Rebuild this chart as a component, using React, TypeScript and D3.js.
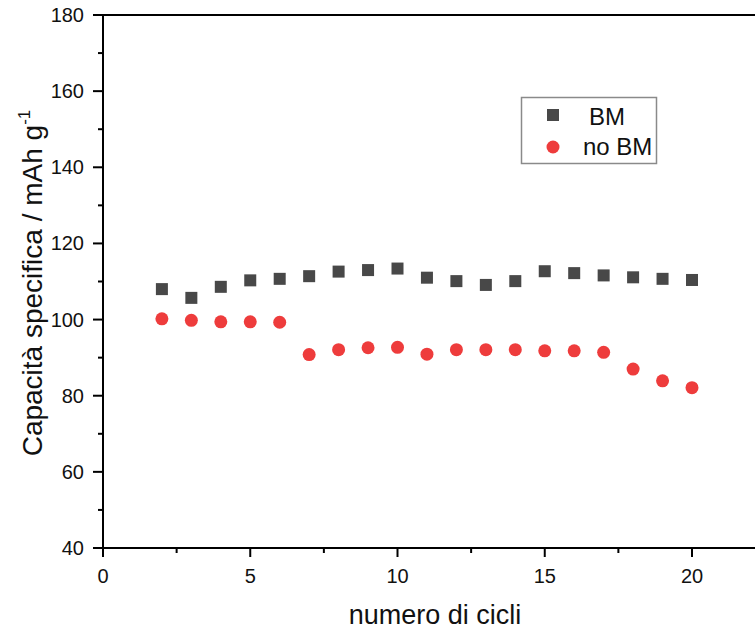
import React from "react";
import * as d3 from "d3";

const cycles = [2, 3, 4, 5, 6, 7, 8, 9, 10, 11, 12, 13, 14, 15, 16, 17, 18, 19, 20];
const bmValues = [108.0, 105.7, 108.6, 110.3, 110.7, 111.4, 112.6, 113.0, 113.4, 111.0, 110.1, 109.1, 110.1, 112.7, 112.2, 111.6, 111.1, 110.7, 110.4];
const noBmValues = [100.2, 99.8, 99.4, 99.4, 99.3, 90.8, 92.1, 92.6, 92.7, 90.9, 92.1, 92.1, 92.1, 91.8, 91.8, 91.4, 87.0, 83.9, 82.1];
const xTicks = [0, 5, 10, 15, 20];
const xMinorTicks = [2.5, 7.5, 12.5, 17.5, 22.5];
const yTicks = [40, 60, 80, 100, 120, 140, 160, 180];
const yMinorTicks = [50, 70, 90, 110, 130, 150, 170];
const seriesNames = ["BM", "no BM"];

const W = 755;
const H = 632;
const left = 103;
const top = 15;
const bottom = 548;

export default function App() {
  const x = d3.scaleLinear().domain([0, 20]).range([left, 692]);
  const y = d3.scaleLinear().domain([40, 180]).range([bottom, top]);
  const font = "Arial, 'Liberation Sans', sans-serif";
  const sq = 12;
  const r = 6.5;
  const bmColor = "#484848";
  const noColor = "#ee3c3c";
  return (
    <svg width={W} height={H} style={{ position: "absolute", left: 0, top: 0, background: "#fff" }} fontFamily={font}>
      <line x1={left} x2={W} y1={top} y2={top} stroke="#000" strokeWidth={2} />
      <line x1={left} x2={W} y1={bottom} y2={bottom} stroke="#000" strokeWidth={2} />
      <line x1={left} x2={left} y1={top - 1} y2={bottom + 1} stroke="#000" strokeWidth={2} />
      {xTicks.map((t) => (
        <g key={"xt" + t}>
          <line x1={x(t)} x2={x(t)} y1={bottom} y2={bottom + 9} stroke="#000" strokeWidth={2} />
          <text x={x(t)} y={583} textAnchor="middle" fontSize={20} fill="#111">{t}</text>
        </g>
      ))}
      {xMinorTicks.map((t) => (
        <line key={"xm" + t} x1={x(t)} x2={x(t)} y1={bottom} y2={bottom + 5} stroke="#000" strokeWidth={2} />
      ))}
      {yTicks.map((t) => (
        <g key={"yt" + t}>
          <line x1={left - 10} x2={left} y1={y(t)} y2={y(t)} stroke="#000" strokeWidth={2} />
          <text x={84} y={y(t) + 7} textAnchor="end" fontSize={20} fill="#111">{t}</text>
        </g>
      ))}
      {yMinorTicks.map((t) => (
        <line key={"ym" + t} x1={left - 5} x2={left} y1={y(t)} y2={y(t)} stroke="#000" strokeWidth={2} />
      ))}
      <text x={435} y={624} textAnchor="middle" fontSize={27} fill="#111">numero di cicli</text>
      <text transform={`translate(42, 283) rotate(-90)`} textAnchor="middle" fontSize={28} fill="#111">
        Capacità specifica / mAh g<tspan dy={-12} fontSize={17}>-1</tspan>
      </text>
      {cycles.map((c, i) => (
        <rect key={"bm" + c} x={x(c) - sq / 2} y={y(bmValues[i]) - sq / 2} width={sq} height={sq} fill={bmColor} />
      ))}
      {cycles.map((c, i) => (
        <circle key={"no" + c} cx={x(c)} cy={y(noBmValues[i])} r={r} fill={noColor} />
      ))}
      <rect x={521.5} y={97.5} width={135} height={66} fill="#fff" stroke="#8a8a8a" strokeWidth={1.5} />
      <rect x={553 - sq / 2} y={115 - sq / 2} width={sq} height={sq} fill={bmColor} />
      <text x={589} y={124.5} fontSize={24} fill="#111">{seriesNames[0]}</text>
      <circle cx={553} cy={147} r={r} fill={noColor} />
      <text x={583} y={154.5} fontSize={24} fill="#111">{seriesNames[1]}</text>
    </svg>
  );
}
